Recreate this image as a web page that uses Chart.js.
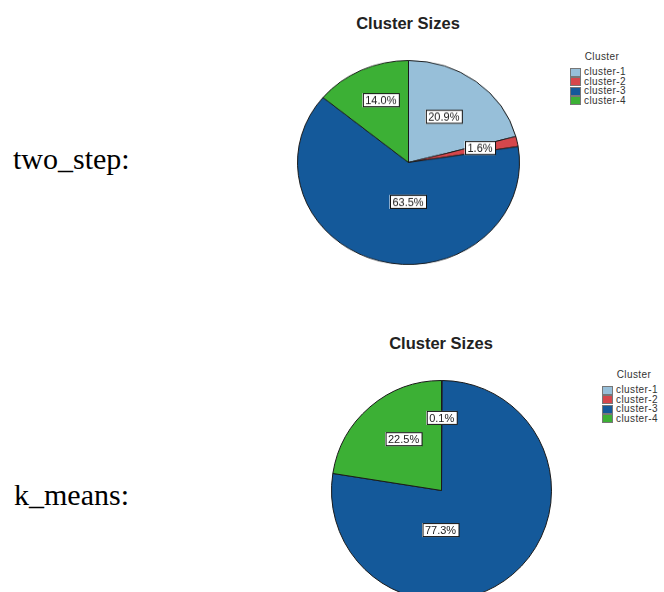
<!DOCTYPE html>
<html>
<head>
<meta charset="utf-8">
<script src="https://cdn.jsdelivr.net/npm/chart.js@4.4.1/dist/chart.umd.min.js"></script>
<style>
  html, body { margin: 0; padding: 0; background: #fff; }
  body { width: 664px; height: 592px; position: relative; overflow: hidden; }
  .side { position: absolute; font-family: "Liberation Serif", "Times New Roman", serif; font-size: 30px; line-height: 30px; color: #000; }
  .title { position: absolute; width: 200px; text-align: center; font-family: "Liberation Sans", Arial, sans-serif; font-weight: bold; font-size: 16.5px; line-height: 16px; color: #222; }
  .pie { position: absolute; }
  .legend { position: absolute; font-family: "Liberation Sans", Arial, sans-serif; font-size: 10px; color: #333; letter-spacing: 0.4px; }
  .legend .head { text-align: center; line-height: 12px; margin-bottom: 4px; padding-left: 4px; }
  .legend .row { height: 9.5px; line-height: 9.5px; white-space: nowrap; position: relative; }
  .legend .box { position: absolute; left: 0; top: 0.5px; width: 9px; height: 7px; border: 1px solid #777; }
  .legend .txt { position: absolute; top: 0; }
</style>
</head>
<body>
<div class="side" style="left:13px; top:144px;">two_step:</div>
<div class="side" style="left:14px; top:480px;">k_means:</div>

<div class="title" style="left:308px; top:15px;">Cluster Sizes</div>
<div class="title" style="left:341px; top:335px;">Cluster Sizes</div>

<div class="pie" style="left:297px; top:51px; width:223px; height:223px; transform:scaleY(0.919); transform-origin:50% 50%;"><canvas id="twoStep"></canvas></div>
<div class="pie" style="left:331px; top:380px; width:221px; height:221px;"><canvas id="kMeans"></canvas></div>

<div class="legend" id="legendTwoStep" style="left:570px; top:51px; width:60px;"></div>
<div class="legend" id="legendKMeans" style="left:602px; top:369px; width:60px;"></div>

<script>
// data (percent of cases)
const clusterNames = ['cluster-1', 'cluster-2', 'cluster-3', 'cluster-4'];
const twoStepSizes = [20.9, 1.6, 63.5, 14.0];
const kMeansSizes = [0.1, 0.0, 77.3, 22.5];

// styles
const clusterColors = ['#97bfd9', '#d5474c', '#14599a', '#3cb035'];
// label placement: [fraction along the slice, fraction of radius]
const twoStepLabelPos = [[0.47, 0.55], [0.4, 0.66], [0.436, 0.386], [0.56, 0.66]];
const kMeansLabelPos = [[0.5, 0.66], [0.5, 0.5], [0.65, 0.36], [0.55, 0.58]];

// percent boxes drawn on top of the slices
const pctLabels = {
    id: 'pctLabels',
    afterDatasetsDraw(chart, args, opts) {
        const ctx = chart.ctx;
        const values = chart.data.datasets[0].data;
        const meta = chart.getDatasetMeta(0);
        const squash = opts.squash || 1;
        meta.data.forEach((arc, i) => {
            if (!values[i]) return;
            const p = arc.getProps(['x', 'y', 'startAngle', 'endAngle', 'outerRadius'], true);
            const pos = opts.pos[i];
            const a = p.startAngle + pos[0] * (p.endAngle - p.startAngle);
            const r = pos[1] * p.outerRadius;
            const x = p.x + Math.cos(a) * r;
            const y = p.y + Math.sin(a) * r;
            const txt = values[i].toFixed(1) + '%';
            ctx.save();
            ctx.translate(x, y);
            ctx.scale(1, 1 / squash);
            ctx.font = '11px "Liberation Sans", Arial, sans-serif';
            const w = Math.round(ctx.measureText(txt).width) + 6;
            const h = 14;
            ctx.fillStyle = '#fff';
            ctx.fillRect(-w / 2, -h / 2, w, h);
            ctx.strokeStyle = '#111';
            ctx.lineWidth = 1;
            ctx.strokeRect(Math.round(-w / 2) + 0.5, -h / 2 + 0.5, w - 1, h - 1);
            ctx.fillStyle = '#222';
            ctx.textAlign = 'center';
            ctx.textBaseline = 'middle';
            ctx.fillText(txt, 0, 1);
            ctx.restore();
        });
    }
};

function makePie(id, sizes, labelPos, squash) {
    return new Chart(document.getElementById(id), {
        type: 'pie',
        data: {
            labels: clusterNames,
            datasets: [{
                data: sizes,
                backgroundColor: clusterColors,
                borderColor: '#1a1a1a',
                borderWidth: 1
            }]
        },
        options: {
            responsive: true,
            maintainAspectRatio: false,
            animation: false,
            layout: { padding: 0 },
            plugins: {
                legend: { display: false },
                title: { display: false },
                tooltip: { enabled: false },
                pctLabels: { pos: labelPos, squash: squash }
            }
        },
        plugins: [pctLabels]
    });
}

makePie('twoStep', twoStepSizes, twoStepLabelPos, 0.919);
makePie('kMeans', kMeansSizes, kMeansLabelPos, 1);

// legends next to each pie
function makeLegend(id) {
    const el = document.getElementById(id);
    el.innerHTML = '<div class="head">Cluster</div>' + clusterNames.map((name, i) => `
        <div class="row">
            <span class="box" style="background:${clusterColors[i]};"></span>
            <span class="txt" style="left:14px;">${name}</span>
        </div>`).join('');
}
makeLegend('legendTwoStep');
makeLegend('legendKMeans');
</script>
</body>
</html>
